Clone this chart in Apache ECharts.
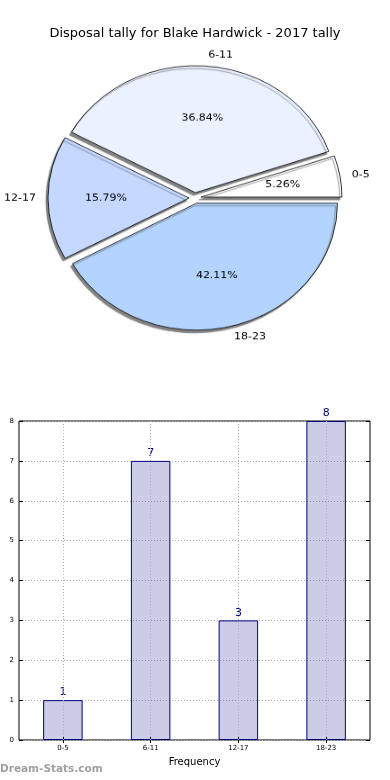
<!DOCTYPE html>
<html>
<head>
<meta charset="utf-8">
<script src="https://cdn.jsdelivr.net/npm/echarts@6/dist/echarts.min.js"></script>
<style>
html,body{margin:0;padding:0;background:#fff;}
#wrap{position:relative;width:390px;height:780px;}
#main{position:absolute;left:0;top:0;width:390px;height:780px;}
#pie{position:absolute;left:0;top:0;width:390px;height:400px;transform:scaleY(0.9);transform-origin:195px 198px;}
</style>
</head>
<body>
<div id="wrap">
<div id="main"></div>
<div id="pie"></div>
</div>
<script>
var categories = ['0-5', '6-11', '12-17', '18-23'];
var counts = [1, 7, 3, 8];
var sliceColors = ['#ffffff', '#eaf1ff', '#c5d8ff', '#b3d4ff'];
var yTicks = [0, 1, 2, 3, 4, 5, 6, 7, 8];

var FONT = 'DejaVu Sans';
var chart = echarts.init(document.getElementById('main'), null, {renderer: 'canvas'});
var pieChart = echarts.init(document.getElementById('pie'), null, {renderer: 'canvas'});

var pieData = categories.map(function (c, i) {
  return {name: c, value: counts[i], selected: true, itemStyle: {color: sliceColors[i]}};
});
var pctData = categories.map(function (c, i) {
  return {name: c, value: counts[i], selected: true};
});

chart.setOption({
  animation: false,
  backgroundColor: '#ffffff',
  title: {
    text: 'Disposal tally for Blake Hardwick - 2017 tally',
    left: 'center',
    top: 22,
    textStyle: {fontFamily: FONT, fontSize: 13, fontWeight: 'normal', color: '#000'}
  },
  graphic: [{
    type: 'text',
    left: 0,
    top: 764,
    style: {text: 'Dream-Stats.com', fontFamily: FONT, fontSize: 10.5, fontWeight: 'bold', fill: '#a0a0a0'}
  }],
  grid: {
    left: 19, right: 20, top: 421, bottom: 40,
    containLabel: false, outerBoundsMode: 'none',
    show: true, borderColor: '#000', borderWidth: 1, backgroundColor: 'transparent'
  },
  xAxis: [{
    type: 'category',
    data: categories,
    name: 'Frequency',
    nameLocation: 'middle',
    nameGap: 17,
    nameTextStyle: {fontFamily: FONT, fontSize: 10, color: '#000'},
    axisLine: {show: false},
    axisTick: {show: true, inside: true, alignWithLabel: true, length: 3, lineStyle: {color: '#000'}},
    axisLabel: {fontFamily: FONT, fontSize: 7, color: '#000', margin: 5},
    splitLine: {show: false}
  }, {
    type: 'category',
    data: categories,
    position: 'top',
    axisLine: {show: false},
    axisTick: {show: true, inside: true, alignWithLabel: true, length: 3, lineStyle: {color: '#000'}},
    axisLabel: {show: false},
    splitLine: {show: false}
  }],
  yAxis: [{
    type: 'value',
    min: 0, max: 8, interval: 1,
    name: 'Stat Intervals',
    nameLocation: 'middle',
    nameGap: 11,
    nameTextStyle: {fontFamily: FONT, fontSize: 10, color: '#000'},
    axisLine: {show: false},
    axisTick: {show: true, inside: true, length: 4, lineStyle: {color: '#000'}},
    axisLabel: {fontFamily: FONT, fontSize: 7, color: '#000', margin: 5,
      formatter: function (v) { return yTicks.indexOf(v) >= 0 ? String(v) : ''; }},
    splitLine: {show: true, lineStyle: {color: '#b0b0b0', type: [1, 2], width: 1}}
  }, {
    type: 'value',
    min: 0, max: 8, interval: 1,
    position: 'right',
    axisLine: {show: false},
    axisTick: {show: true, inside: true, length: 4, lineStyle: {color: '#000'}},
    axisLabel: {show: false},
    splitLine: {show: false}
  }],
  series: [{
    type: 'bar',
    data: counts,
    barWidth: '45%',
    itemStyle: {color: 'rgba(0,0,128,0.2)', borderColor: '#000080', borderWidth: 1},
    label: {show: true, position: 'top', distance: 2, fontFamily: FONT, fontSize: 11, color: '#000080'},
    emphasis: {disabled: true},
    markLine: {
      silent: true,
      symbol: ['none', 'none'],
      label: {show: false},
      lineStyle: {color: '#b0b0b0', type: [1, 2], width: 1},
      emphasis: {disabled: true},
      data: categories.map(function (c) { return {xAxis: c}; })
    }
  }]
});

pieChart.setOption({
  animation: false,
  series: [{
    type: 'pie',
    center: [195, 198],
    radius: 141,
    startAngle: 0,
    clockwise: false,
    selectedMode: 'multiple',
    selectedOffset: 6,
    avoidLabelOverlap: false,
    emphasis: {disabled: true},
    itemStyle: {borderColor: '#000', borderWidth: 0.8, shadowColor: 'rgba(90,90,90,0.75)', shadowOffsetX: -2, shadowOffsetY: 3, shadowBlur: 1},
    label: {show: true, position: 'outside', formatter: '{b}', fontFamily: FONT, fontSize: 11, color: '#000', distanceToLabelLine: 0},
    labelLine: {show: false, length: 12, length2: 0},
    data: pieData,
    z: 2
  }, {
    type: 'pie',
    center: [195, 198],
    radius: 160,
    startAngle: 0,
    clockwise: false,
    selectedMode: 'multiple',
    selectedOffset: 6,
    silent: true,
    emphasis: {disabled: true},
    itemStyle: {color: 'rgba(0,0,0,0)', borderWidth: 0},
    label: {show: true, position: 'inside', formatter: '{d}%', fontFamily: FONT, fontSize: 11, color: '#000'},
    labelLine: {show: false},
    data: pctData,
    z: 3
  }]
});
</script>
</body>
</html>
